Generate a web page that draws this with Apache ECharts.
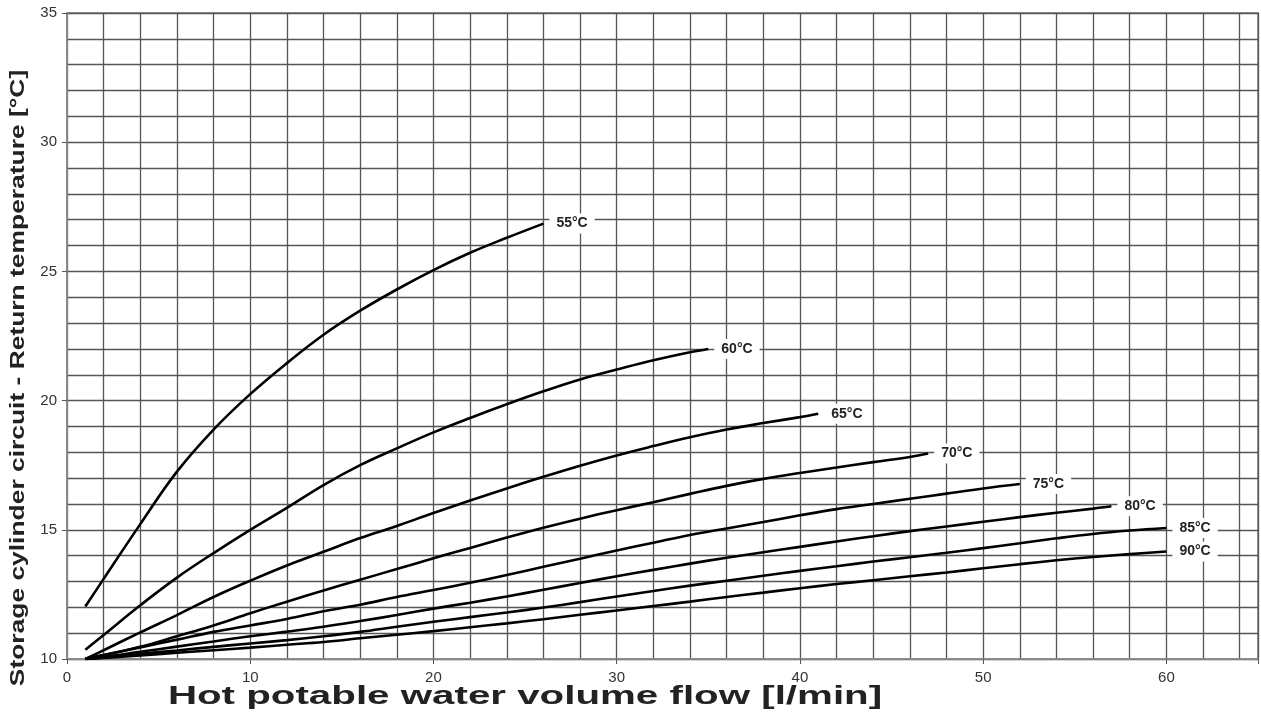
<!DOCTYPE html>
<html>
<head>
<meta charset="utf-8">
<script src="https://cdn.jsdelivr.net/npm/echarts@6/dist/echarts.min.js"></script>
<style>
  html, body { margin: 0; padding: 0; background: #fff; }
  #chart { width: 1261px; height: 715px; }
</style>
</head>
<body>
<div id="chart"></div>
<script>
// flow values where the curves were read (l/min)
var flowSteps = [1, 2, 4, 6, 8, 10, 12, 14, 16, 18, 20, 22, 24, 26, 28, 30, 32, 34, 36, 38, 40, 42, 44, 46, 48, 50, 52, 54, 56, 58, 60];

var curveNames = ['55°C', '60°C', '65°C', '70°C', '75°C', '80°C', '85°C', '90°C'];
// last flow value of each curve
var endFlow = [26, 35, 41, 47, 52, 57, 60, 60];

// return temperature, one value per flow step below endFlow, then the end point
var temp55 = [12.03, 13.1, 15.22, 17.25, 18.88, 20.25, 21.45, 22.55, 23.48, 24.3, 25.05, 25.72, 26.3, 26.85];
var temp60 = [10.36, 10.93, 12.08, 13.15, 14.1, 15.0, 15.85, 16.73, 17.5, 18.15, 18.77, 19.33, 19.86, 20.36, 20.82, 21.2, 21.56, 21.87, 22.0];
var temp65 = [10.0, 10.34, 11.03, 11.7, 12.4, 13.03, 13.62, 14.15, 14.68, 15.15, 15.65, 16.13, 16.6, 17.05, 17.48, 17.88, 18.24, 18.58, 18.88, 19.13, 19.36, 19.49];
var temp70 = [10.0, 10.15, 10.47, 10.88, 11.3, 11.77, 12.22, 12.65, 13.07, 13.48, 13.9, 14.3, 14.7, 15.08, 15.43, 15.76, 16.07, 16.39, 16.7, 16.97, 17.2, 17.41, 17.62, 17.82, 17.95];
var temp75 = [10.0, 10.15, 10.45, 10.75, 11.05, 11.3, 11.55, 11.85, 12.1, 12.4, 12.67, 12.95, 13.25, 13.57, 13.88, 14.2, 14.5, 14.8, 15.05, 15.3, 15.56, 15.8, 16.0, 16.2, 16.4, 16.6, 16.77];
var temp80 = [10.0, 10.08, 10.28, 10.48, 10.68, 10.88, 11.06, 11.25, 11.47, 11.7, 11.95, 12.18, 12.42, 12.68, 12.94, 13.2, 13.45, 13.69, 13.92, 14.13, 14.34, 14.55, 14.75, 14.95, 15.13, 15.31, 15.49, 15.66, 15.82, 15.91];
var temp85 = [10.0, 10.06, 10.2, 10.33, 10.47, 10.6, 10.73, 10.88, 11.05, 11.25, 11.44, 11.62, 11.8, 11.99, 12.2, 12.42, 12.63, 12.84, 13.03, 13.22, 13.41, 13.59, 13.77, 13.94, 14.11, 14.29, 14.48, 14.67, 14.84, 14.97, 15.07];
var temp90 = [10.0, 10.04, 10.14, 10.24, 10.34, 10.44, 10.55, 10.66, 10.8, 10.94, 11.08, 11.23, 11.38, 11.54, 11.71, 11.88, 12.05, 12.22, 12.4, 12.57, 12.74, 12.9, 13.05, 13.2, 13.35, 13.51, 13.67, 13.82, 13.95, 14.06, 14.16];

var temps = [temp55, temp60, temp65, temp70, temp75, temp80, temp85, temp90];

var xTitle = 'Hot potable water volume flow [l/min]';
var yTitle = 'Storage cylinder circuit - Return temperature [°C]';

var font = "'Liberation Sans', Arial, Helvetica, sans-serif";
var gridColor = '#555';

function curvePoints(end, values) {
  var xs = flowSteps.filter(function (f) { return f < end; }).concat([end]);
  return xs.map(function (x, i) { return [x, values[i]]; });
}

var series = curveNames.map(function (name, i) {
  return {
    name: name,
    type: 'line',
    smooth: 0.4,
    symbol: 'none',
    data: curvePoints(endFlow[i], temps[i]),
    lineStyle: { color: '#000', width: 2.6 },
    endLabel: {
      show: true,
      formatter: '{a}',
      distance: 6,
      color: '#222',
      fontFamily: font,
      fontWeight: 'bold',
      fontSize: 14,
      backgroundColor: '#fff',
      padding: [3, 7, 3, 7]
    }
  };
});

var chart = echarts.init(document.getElementById('chart'));
chart.setOption({
  animation: false,
  // axis titles, drawn wide like in the original sheet
  graphic: [
    {
      type: 'text',
      x: 525,
      y: 697,
      scaleX: 1.55,
      style: {
        text: xTitle,
        font: 'bold 26px ' + font,
        fill: '#222',
        textAlign: 'center',
        textVerticalAlign: 'middle'
      }
    },
    {
      type: 'text',
      x: 18,
      y: 378,
      rotation: Math.PI / 2,
      scaleX: 1.32,
      style: {
        text: yTitle,
        font: 'bold 20px ' + font,
        fill: '#222',
        textAlign: 'center',
        textVerticalAlign: 'middle'
      }
    }
  ],
  grid: {
    left: 67,
    right: 3,
    top: 13,
    bottom: 56,
    show: true,
    borderColor: '#999',
    borderWidth: 2
  },
  xAxis: {
    type: 'value',
    min: 0,
    max: 65,
    interval: 10,
    axisLine: { show: true, onZero: false, lineStyle: { color: '#888', width: 2 } },
    axisTick: { show: true, length: 5, lineStyle: { color: '#555' } },
    axisLabel: { color: '#333', fontFamily: font, fontSize: 15, margin: 11,
      formatter: function (v) { return v <= 60 ? v : ''; } },
    splitLine: { show: true, lineStyle: { color: gridColor, width: 1.3 } },
    minorTick: { show: false, splitNumber: 5 },
    minorSplitLine: { show: true, lineStyle: { color: gridColor, width: 1.3 } }
  },
  yAxis: {
    type: 'value',
    min: 10,
    max: 35,
    interval: 5,
    axisLine: { show: true, lineStyle: { color: '#888', width: 2 } },
    axisTick: { show: true, length: 5, lineStyle: { color: '#555' } },
    axisLabel: { color: '#333', fontFamily: font, fontSize: 15, margin: 10 },
    splitLine: { show: true, lineStyle: { color: gridColor, width: 1.3 } },
    minorTick: { show: false, splitNumber: 5 },
    minorSplitLine: { show: true, lineStyle: { color: gridColor, width: 1.3 } }
  },
  series: series
});
</script>
</body>
</html>
